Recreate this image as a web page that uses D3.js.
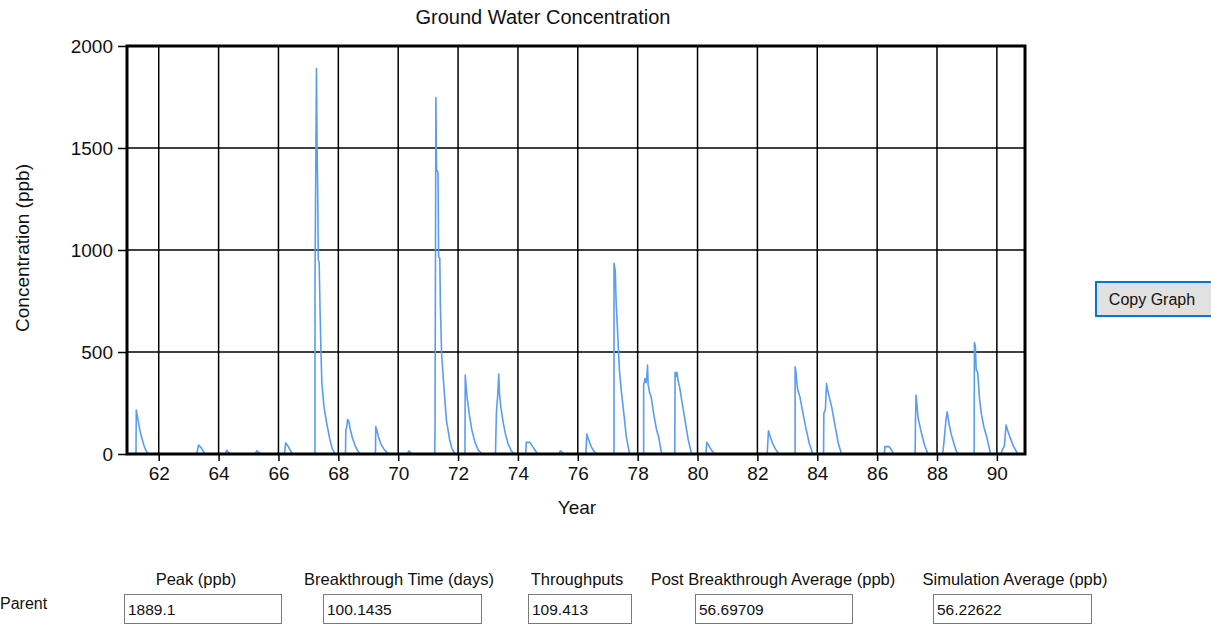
<!DOCTYPE html>
<html>
<head>
<meta charset="utf-8">
<script src="https://cdn.jsdelivr.net/npm/d3@7"></script>
<style>
  body { margin: 0; background: #fff; }
  svg text { font-family: "Liberation Sans", Arial, sans-serif; fill: #111; }
</style>
</head>
<body>
<div id="chart"></div>
<script>
// Chart values
const chartTitle = "Ground Water Concentration";
const xTickValues = [62, 64, 66, 68, 70, 72, 74, 76, 78, 80, 82, 84, 86, 88, 90];
const yTickValues = [0, 500, 1000, 1500, 2000];
const xDomain = [60.94, 90.94];
const yDomain = [0, 2000];

// [year, concentration ppb]
const concentrationSeries = [
  [60.94, 0],
  [61.24, 0], [61.25, 216], [61.28, 190], [61.33, 150], [61.38, 110], [61.45, 70], [61.52, 35], [61.60, 10], [61.67, 0],
  [63.27, 0], [63.33, 44], [63.42, 30], [63.50, 10], [63.56, 0],
  [64.22, 0], [64.27, 18], [64.35, 5], [64.40, 0],
  [65.22, 0], [65.28, 16], [65.36, 6], [65.42, 0],
  [66.20, 0], [66.24, 55], [66.32, 38], [66.42, 12], [66.48, 0],
  [67.22, 0], [67.22, 838], [67.27, 1889], [67.29, 1506], [67.31, 1300], [67.33, 951], [67.36, 940], [67.39, 700],
  [67.42, 500], [67.45, 348], [67.52, 232], [67.61, 152], [67.72, 69], [67.80, 25], [67.89, 0],
  [68.24, 0], [68.25, 120], [68.28, 130], [68.31, 170], [68.35, 160], [68.40, 120], [68.47, 80], [68.55, 45], [68.63, 20], [68.72, 0],
  [69.24, 0], [69.25, 134], [69.28, 120], [69.34, 85], [69.42, 50], [69.52, 25], [69.62, 8], [69.72, 0],
  [70.30, 0], [70.36, 15], [70.42, 6], [70.47, 0],
  [71.22, 0], [71.23, 100], [71.26, 1747], [71.28, 1392], [71.33, 1380], [71.35, 967], [71.39, 960], [71.41, 722],
  [71.45, 494], [71.53, 323], [71.61, 167], [71.72, 69], [71.80, 25], [71.90, 0],
  [72.23, 0], [72.24, 387], [72.27, 330], [72.30, 281], [72.37, 200], [72.46, 118], [72.56, 60], [72.67, 20], [72.80, 0],
  [73.25, 0], [73.28, 200], [73.33, 300], [73.36, 392], [73.38, 300], [73.43, 230], [73.50, 160], [73.58, 100], [73.67, 50], [73.78, 15], [73.88, 0],
  [74.26, 0], [74.28, 57], [74.40, 57], [74.50, 35], [74.60, 12], [74.67, 0],
  [75.36, 0], [75.42, 15], [75.50, 5], [75.55, 0],
  [76.27, 0], [76.30, 98], [76.36, 70], [76.45, 35], [76.55, 12], [76.64, 0],
  [77.21, 0], [77.21, 935], [77.25, 900], [77.28, 747], [77.33, 600], [77.39, 412], [77.45, 314], [77.55, 183], [77.62, 85], [77.73, 0],
  [78.20, 0], [78.20, 340], [78.25, 370], [78.28, 350], [78.31, 380], [78.33, 436], [78.35, 340], [78.40, 300], [78.45, 281],
  [78.55, 183], [78.63, 120], [78.70, 85], [78.80, 0],
  [79.24, 0], [79.25, 400], [79.28, 380], [79.31, 400], [79.35, 360], [79.40, 330], [79.47, 265], [79.58, 167], [79.69, 69], [79.80, 0],
  [80.28, 0], [80.31, 57], [80.40, 35], [80.50, 12], [80.58, 0],
  [82.31, 0], [82.33, 8], [82.37, 114], [82.42, 90], [82.50, 55], [82.60, 25], [82.72, 0],
  [83.26, 0], [83.26, 428], [83.29, 400], [83.31, 360], [83.35, 314], [83.42, 280], [83.48, 232], [83.61, 134], [83.73, 54], [83.85, 0],
  [84.21, 0], [84.22, 200], [84.27, 215], [84.31, 346], [84.35, 310], [84.40, 280], [84.48, 232], [84.60, 134], [84.70, 54], [84.81, 0],
  [86.24, 0], [86.26, 36], [86.40, 36], [86.48, 20], [86.55, 0],
  [87.27, 0], [87.28, 150], [87.30, 289], [87.33, 240], [87.37, 175], [87.48, 103], [87.58, 45], [87.70, 0],
  [88.19, 0], [88.24, 69], [88.30, 167], [88.34, 207], [88.37, 180], [88.41, 142], [88.47, 100], [88.53, 69], [88.62, 25], [88.69, 0],
  [89.24, 0], [89.25, 546], [89.28, 530], [89.31, 412], [89.36, 400], [89.42, 273], [89.48, 199], [89.57, 130], [89.66, 85], [89.79, 0],
  [90.14, 0], [90.18, 20], [90.25, 40], [90.29, 110], [90.31, 142], [90.35, 120], [90.43, 85], [90.55, 40], [90.70, 0],
  [90.94, 0]
];

const statLabels = ["Peak (ppb)", "Breakthrough Time (days)", "Throughputs", "Post Breakthrough Average (ppb)", "Simulation Average (ppb)"];
const statValues = ["1889.1", "100.1435", "109.413", "56.69709", "56.22622"];

// Layout
const width = 1211, height = 635;
const margin = { top: 46, left: 127, right: 186, bottom: 181 };
const plotW = width - margin.left - margin.right;
const plotH = height - margin.top - margin.bottom;

const svg = d3.select("#chart")
  .append("svg")
  .attr("width", width)
  .attr("height", height);

const xScale = d3.scaleLinear().domain(xDomain).range([margin.left, margin.left + plotW]);
const yScale = d3.scaleLinear().domain(yDomain).range([margin.top + plotH, margin.top]);

// Title
svg.append("text")
  .attr("x", 543)
  .attr("y", 24)
  .attr("text-anchor", "middle")
  .style("font-size", "20px")
  .text(chartTitle);

// Grid lines
svg.append("g")
  .selectAll("line.vgrid")
  .data(xTickValues)
  .join("line")
  .attr("x1", d => xScale(d)).attr("x2", d => xScale(d))
  .attr("y1", margin.top).attr("y2", margin.top + plotH)
  .attr("stroke", "#000").attr("stroke-width", 1.5);

svg.append("g")
  .selectAll("line.hgrid")
  .data(yTickValues)
  .join("line")
  .attr("x1", margin.left).attr("x2", margin.left + plotW)
  .attr("y1", d => yScale(d)).attr("y2", d => yScale(d))
  .attr("stroke", "#000").attr("stroke-width", 1.5);

// Data line
const line = d3.line()
  .x(d => xScale(d[0]))
  .y(d => yScale(d[1]));

svg.append("path")
  .datum(concentrationSeries)
  .attr("fill", "none")
  .attr("stroke", "#5a9cf3")
  .attr("stroke-width", 1.6)
  .attr("stroke-linejoin", "round")
  .attr("d", line);

// Axes
const xAxis = svg.append("g")
  .attr("transform", `translate(0,${margin.top + plotH})`)
  .call(d3.axisBottom(xScale).tickValues(xTickValues).tickSize(7).tickSizeOuter(0).tickPadding(6));

const yAxis = svg.append("g")
  .attr("transform", `translate(${margin.left},0)`)
  .call(d3.axisLeft(yScale).tickValues(yTickValues).tickFormat(d3.format("d"))
    .tickSize(9).tickSizeOuter(0).tickPadding(5));

[xAxis, yAxis].forEach(a => {
  a.select(".domain").remove();
  a.selectAll(".tick line").attr("stroke", "#000").attr("stroke-width", 1.5);
  a.selectAll(".tick text")
    .style("font-size", "19px")
    .style("font-family", "'Liberation Sans', Arial, sans-serif")
    .attr("fill", "#111");
});

// Plot border
svg.append("rect")
  .attr("x", margin.left)
  .attr("y", margin.top)
  .attr("width", plotW)
  .attr("height", plotH)
  .attr("fill", "none")
  .attr("stroke", "#000")
  .attr("stroke-width", 3);

// Axis titles
svg.append("text")
  .attr("x", 577)
  .attr("y", 514)
  .attr("text-anchor", "middle")
  .style("font-size", "19px")
  .text("Year");

svg.append("text")
  .attr("transform", "translate(29,248) rotate(-90)")
  .attr("text-anchor", "middle")
  .style("font-size", "19px")
  .text("Concentration (ppb)");

// Copy Graph button
svg.append("rect")
  .attr("x", 1096).attr("y", 282)
  .attr("width", 118).attr("height", 34)
  .attr("fill", "#e1e1e1")
  .attr("stroke", "#0078d7")
  .attr("stroke-width", 2);

svg.append("text")
  .attr("x", 1152).attr("y", 305)
  .attr("text-anchor", "middle")
  .style("font-size", "16px")
  .text("Copy Graph");

// Stats row
const boxX = [124, 323, 528, 695, 933];
const boxW = [157, 158, 103, 157, 158];
const labelX = [196, 399, 577, 773, 1015];

svg.append("text")
  .attr("x", 0).attr("y", 609)
  .style("font-size", "16px")
  .text("Parent");

const stats = svg.append("g");
statLabels.forEach((lab, i) => {
  stats.append("text")
    .attr("x", labelX[i]).attr("y", 585)
    .attr("text-anchor", "middle")
    .style("font-size", "16.5px")
    .text(lab);
  stats.append("rect")
    .attr("x", boxX[i] + 0.5).attr("y", 594.5)
    .attr("width", boxW[i]).attr("height", 29)
    .attr("fill", "#fff")
    .attr("stroke", "#7a7a7a");
  stats.append("text")
    .attr("x", boxX[i] + 4).attr("y", 615)
    .style("font-size", "15.5px")
    .text(statValues[i]);
});
</script>
</body>
</html>
